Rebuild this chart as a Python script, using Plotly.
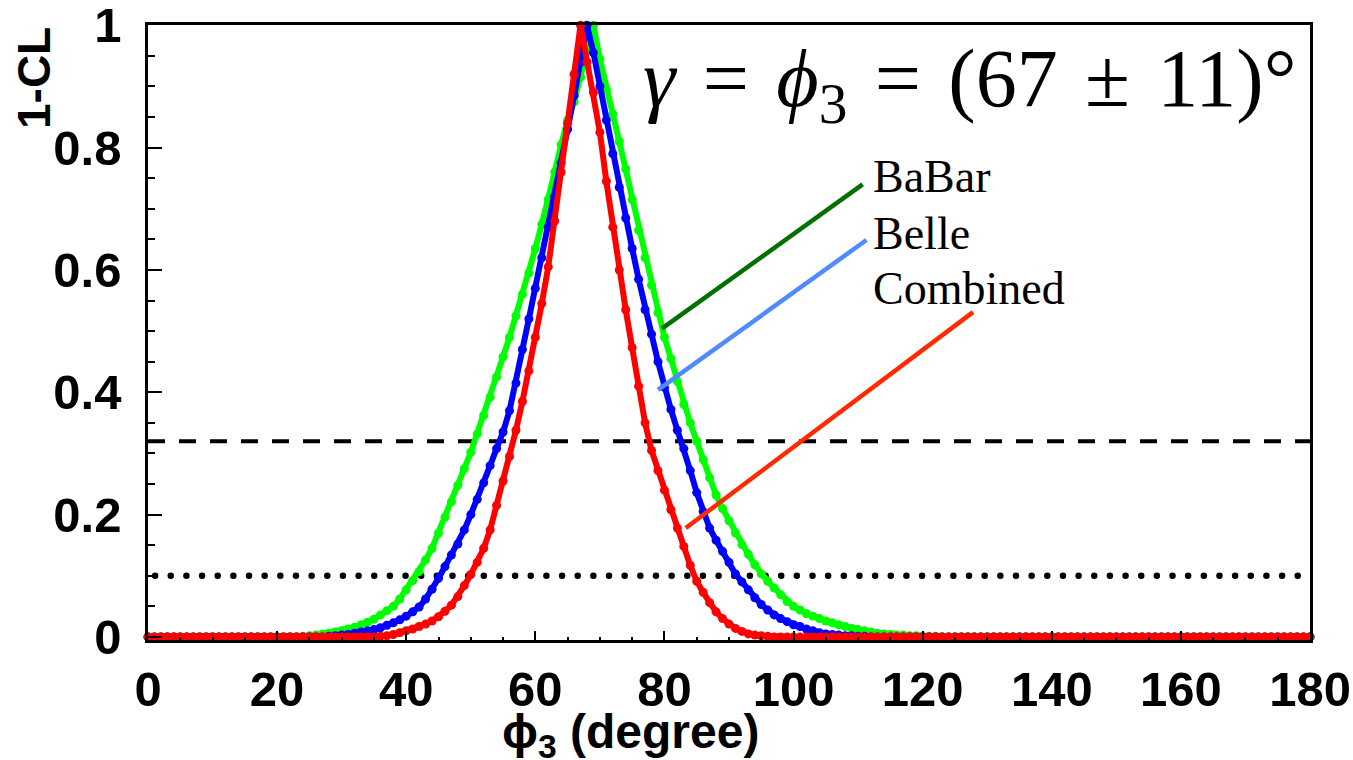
import numpy as np
import plotly.graph_objects as go

# phi3 scan grid (degrees)
PHI = list(range(0, 181))

# 1-CL for BaBar, first non-zero point at phi = 24
BABAR_START = 24
BABAR_CL = [
    0.001, 0.002, 0.003, 0.005, 0.006, 0.008, 0.010, 0.013, 0.016, 0.020,
    0.024, 0.029, 0.036, 0.043, 0.050, 0.062, 0.077, 0.092, 0.107, 0.126,
    0.145, 0.170, 0.196, 0.221, 0.248, 0.275, 0.302, 0.332, 0.362, 0.392,
    0.425, 0.458, 0.490, 0.525, 0.560, 0.595, 0.635, 0.675, 0.715, 0.760,
    0.805, 0.845, 0.875, 0.915, 0.960, 1.000, 0.945, 0.895, 0.855, 0.810,
    0.765, 0.715, 0.665, 0.620, 0.575, 0.530, 0.490, 0.455, 0.418, 0.380,
    0.350, 0.320, 0.290, 0.260, 0.232, 0.210, 0.190, 0.170, 0.151, 0.135,
    0.118, 0.103, 0.091, 0.080, 0.069, 0.058, 0.050, 0.044, 0.038, 0.034,
    0.030, 0.026, 0.023, 0.020, 0.017, 0.014, 0.012, 0.010, 0.008, 0.006,
    0.005, 0.004, 0.003, 0.003, 0.002, 0.002, 0.001, 0.001, 0.001,
]

# 1-CL for Belle, first non-zero point at phi = 28
BELLE_START = 28
BELLE_CL = [
    0.001, 0.002, 0.003, 0.004, 0.006, 0.008, 0.010, 0.012, 0.015, 0.019,
    0.023, 0.028, 0.034, 0.041, 0.049, 0.062, 0.078, 0.096, 0.115, 0.134,
    0.152, 0.175, 0.200, 0.225, 0.252, 0.280, 0.308, 0.335, 0.370, 0.415,
    0.470, 0.520, 0.570, 0.620, 0.670, 0.720, 0.775, 0.830, 0.885, 0.940,
    1.000, 0.955, 0.900, 0.845, 0.790, 0.735, 0.685, 0.635, 0.585, 0.535,
    0.495, 0.450, 0.408, 0.372, 0.338, 0.308, 0.272, 0.236, 0.205, 0.178,
    0.158, 0.140, 0.122, 0.103, 0.090, 0.077, 0.064, 0.053, 0.044, 0.036,
    0.030, 0.025, 0.020, 0.017, 0.013, 0.010, 0.007, 0.005, 0.004, 0.003,
    0.002, 0.002, 0.001, 0.001,
]

# 1-CL for the combination, first non-zero point at phi = 36
COMBINED_START = 36
COMBINED_CL = [
    0.001, 0.002, 0.004, 0.007, 0.010, 0.013, 0.017, 0.021, 0.026, 0.033,
    0.042, 0.052, 0.066, 0.084, 0.102, 0.122, 0.145, 0.175, 0.215, 0.255,
    0.295, 0.338, 0.385, 0.435, 0.490, 0.545, 0.605, 0.680, 0.760, 0.840,
    0.920, 1.000, 0.940, 0.890, 0.825, 0.745, 0.670, 0.600, 0.535, 0.473,
    0.410, 0.350, 0.305, 0.272, 0.240, 0.208, 0.178, 0.148, 0.117, 0.091,
    0.073, 0.056, 0.041, 0.030, 0.021, 0.014, 0.009, 0.005, 0.003, 0.002,
    0.001,
]

# reference confidence levels: 1 sigma and 90 %
ONE_SIGMA = 0.32
NINETY = 0.10

SERIES = [
    ("BaBar", BABAR_START, BABAR_CL, "#00ff00"),
    ("Belle", BELLE_START, BELLE_CL, "#0000ff"),
    ("Combined", COMBINED_START, COMBINED_CL, "#ff0000"),
]


def on_grid(start, vals):
    """Place a scan segment on the full phi grid (zero elsewhere)."""
    return [0.0] * start + list(vals) + [0.0] * (len(PHI) - start - len(vals))


fig = go.Figure()

# confidence level reference lines
fig.add_trace(go.Scatter(
    x=[0, 180], y=[ONE_SIGMA, ONE_SIGMA], mode="lines",
    line=dict(color="black", width=4, dash="17px,14px"),
    hoverinfo="skip", showlegend=False,
))
dot_x = np.linspace(1.1, 178.1, 74)
fig.add_trace(go.Scatter(
    x=dot_x, y=[NINETY] * len(dot_x), mode="markers",
    marker=dict(color="black", size=6.5),
    hoverinfo="skip", showlegend=False,
))

for name, start, vals, color in SERIES:
    fig.add_trace(go.Scatter(
        x=PHI, y=on_grid(start, vals), name=name, mode="lines+markers",
        line=dict(color=color, width=6),
        marker=dict(color=color, size=9),
        cliponaxis=False, showlegend=False,
    ))

# label leader lines (data coordinates)
LEADERS = [
    ((79.6, 0.504), (110.7, 0.740), "#007000"),
    ((79.0, 0.404), (111.3, 0.649), "#4f8bff"),
    ((83.3, 0.178), (127.8, 0.531), "#ff2a00"),
]
for (x0, y0), (x1, y1), c in LEADERS:
    fig.add_shape(type="line", xref="x", yref="y", x0=x0, y0=y0, x1=x1, y1=y1,
                  line=dict(color=c, width=4.5))

serif = dict(family="Liberation Serif", size=46, color="black")
for text, y in [("BaBar", 0.752), ("Belle", 0.660), ("Combined", 0.569)]:
    fig.add_annotation(x=112.0, y=y, xref="x", yref="y", text=text,
                       showarrow=False, xanchor="left", yanchor="middle",
                       font=serif)

sp = "\u200a"
fig.add_annotation(
    x=0.99, y=0.904, xref="paper", yref="paper",
    text=(f"<i>γ</i>{sp} ={sp} <i>ϕ</i><sub>3</sub>{sp} ={sp} "
          f"(67{sp} ±{sp} 11)°"),
    showarrow=False, xanchor="right", yanchor="middle",
    font=dict(family="Liberation Serif", size=82, color="black"),
)

bold = dict(family="Liberation Sans", size=46, color="black", weight="bold")
fig.add_annotation(
    x=-0.098, y=0.914, xref="paper", yref="paper", text="1-CL",
    textangle=-90, showarrow=False, xanchor="center", yanchor="middle",
    font=bold,
)
fig.add_annotation(
    x=0.415, y=-0.155, xref="paper", yref="paper",
    text="ϕ<sub>3</sub> (degree)",
    showarrow=False, xanchor="center", yanchor="middle",
    font=dict(family="Liberation Sans", size=48, color="black", weight="bold"),
)

tickfont = dict(family="Liberation Sans", size=49, color="black", weight="bold")
fig.update_xaxes(
    range=[0, 180], dtick=20, tick0=0, ticks="inside", ticklen=9, tickwidth=2,
    tickcolor="black", minor=dict(dtick=5, ticks="inside", ticklen=3,
                                  tickwidth=2, tickcolor="black"),
    showline=True, linewidth=2.5, linecolor="black", mirror=True,
    showgrid=False, zeroline=False, tickfont=tickfont, ticklabelstandoff=4,
    ticklabeloverflow="allow", automargin=False,
)
fig.update_yaxes(
    range=[-0.005, 1.0005], tickvals=[0, 0.2, 0.4, 0.6, 0.8, 1.0],
    ticktext=["0", "0.2", "0.4", "0.6", "0.8", "1"],
    ticks="inside", ticklen=14, tickwidth=2, tickcolor="black",
    minor=dict(dtick=0.05, tick0=0, ticks="inside", ticklen=7, tickwidth=2,
               tickcolor="black"),
    showline=True, linewidth=2.5, linecolor="black", mirror=True,
    showgrid=False, zeroline=False, tickfont=tickfont, ticklabelstandoff=14,
    ticklabeloverflow="allow", automargin=False,
)
fig.update_layout(
    width=1353, height=760,
    margin=dict(l=148, r=43, t=25, b=120),
    paper_bgcolor="white", plot_bgcolor="white",
)

fig.write_html("out.html")
